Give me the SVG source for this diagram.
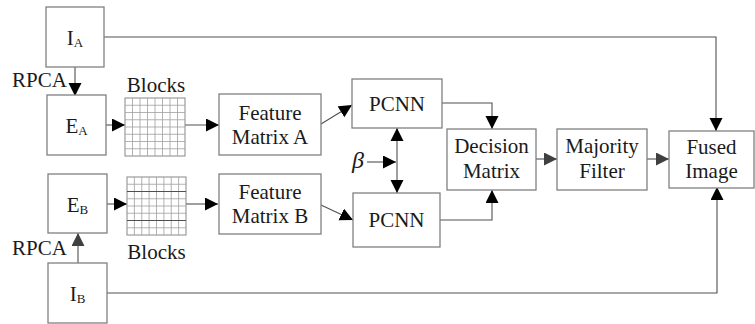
<svg xmlns="http://www.w3.org/2000/svg" width="755" height="324" viewBox="0 0 755 324">
<defs>
<style>
.box{fill:#fff;stroke:#808080;stroke-width:1.3}
.ln{fill:none;stroke:#505050;stroke-width:1.1}
.ab{marker-end:url(#ah)}
.ag{marker-end:url(#ahg)}
.grid{fill:#fff;stroke:#888;stroke-width:1}
.gl{stroke:#a0a0a0;stroke-width:0.8;fill:none}
.gd{stroke:#505050;stroke-width:1;fill:none}
</style>
<marker id="ah" markerUnits="userSpaceOnUse" markerWidth="14" markerHeight="14" refX="13" refY="6.5" orient="auto"><path d="M0,0 L13,6.5 L0,13 z" fill="#000"/></marker>
<marker id="ahs" markerUnits="userSpaceOnUse" markerWidth="14" markerHeight="14" refX="0" refY="6.5" orient="auto"><path d="M13,0 L0,6.5 L13,13 z" fill="#000"/></marker>
<marker id="ahg" markerUnits="userSpaceOnUse" markerWidth="14" markerHeight="14" refX="13" refY="6.5" orient="auto"><path d="M0,0 L13,6.5 L0,13 z" fill="#404040"/></marker>
</defs>
<rect width="755" height="324" fill="#fff"/>
<g id="connectors">
<path class="ln ab" d="M104,37 H716 V131"/>
<path class="ln ab" d="M75,67 V96"/>
<path class="ln ab" d="M106,125 H125"/>
<path class="ln ab" d="M185,125 H219"/>
<path class="ln ab" d="M321,124 L352,105"/>
<path class="ln ab" d="M442,103 H492 V129"/>
<path class="ln ab" d="M440,220 H492 V190"/>
<path class="ln ab" d="M367,162 H396"/>
<path class="ln" d="M397,128 V193" marker-start="url(#ahs)" marker-end="url(#ah)"/>
<path class="ln ag" d="M78,263 V233"/>
<path class="ln ab" d="M107,204 H127"/>
<path class="ln ab" d="M186,204 H218"/>
<path class="ln ab" d="M321,205 L353,220"/>
<path class="ln ag" d="M536,159 H557"/>
<path class="ln ag" d="M647,159 H669"/>
<path class="ln ab" d="M107,293 H717 V187"/>
</g>
<g font-family="Liberation Serif, Times New Roman, DejaVu Serif, serif" font-size="21" fill="#1a1a1a">
<g id="IA">
<rect class="box" x="46" y="7" width="58" height="60"/>
<text x="75" y="45" text-anchor="middle">I<tspan font-size="13" dy="2">A</tspan></text>
</g>
<g id="rpcaA"><text x="12" y="87">RPCA</text></g>
<g id="EA">
<rect class="box" x="47" y="95" width="59" height="60"/>
<text x="76.5" y="133" text-anchor="middle">E<tspan font-size="13" dy="2">A</tspan></text>
</g>
<g id="blocksA">
<text x="156" y="92" text-anchor="middle">Blocks</text>
<rect class="grid" x="125" y="98" width="60" height="58"/>
<path class="gl" d="M132.5,98V156M140,98V156M147.5,98V156M155,98V156M162.5,98V156M170,98V156M177.5,98V156M125,105.25H185M125,112.5H185M125,119.75H185M125,127H185M125,134.25H185M125,141.5H185M125,148.75H185"/>
</g>
<g id="FMA">
<rect class="box" x="219" y="94" width="102" height="61"/>
<text x="270" y="119.5" text-anchor="middle">Feature</text>
<text x="270" y="144" text-anchor="middle">Matrix A</text>
</g>
<g id="PCNN1">
<rect class="box" x="352" y="79" width="90" height="49"/>
<text x="397" y="110.5" text-anchor="middle">PCNN</text>
</g>
<g id="beta"><text x="358" y="168" font-size="24" font-style="italic" text-anchor="middle">β</text></g>
<g id="EB">
<rect class="box" x="48" y="174" width="59" height="59"/>
<text x="77.5" y="212" text-anchor="middle">E<tspan font-size="13" dy="2">B</tspan></text>
</g>
<g id="blocksB">
<rect class="grid" x="127" y="177" width="59" height="58"/>
<path class="gl" d="M134.4,177V235M141.75,177V235M149.1,177V235M156.5,177V235M163.9,177V235M171.25,177V235M178.6,177V235M127,184.25H186M127,198.75H186M127,206H186M127,213.25H186M127,227.75H186"/>
<path class="gd" d="M127,191.5H186M127,220.5H186"/>
<text x="156.5" y="259" text-anchor="middle">Blocks</text>
</g>
<g id="FMB">
<rect class="box" x="219" y="174" width="102" height="60"/>
<text x="270" y="198.5" text-anchor="middle">Feature</text>
<text x="270" y="223" text-anchor="middle">Matrix B</text>
</g>
<g id="PCNN2">
<rect class="box" x="353" y="193" width="87" height="54"/>
<text x="396.5" y="227" text-anchor="middle">PCNN</text>
</g>
<g id="rpcaB"><text x="12" y="255">RPCA</text></g>
<g id="IB">
<rect class="box" x="48" y="263" width="59" height="60"/>
<text x="77.5" y="301" text-anchor="middle">I<tspan font-size="13" dy="2">B</tspan></text>
</g>
<g id="DM">
<rect class="box" x="447" y="129" width="89" height="61"/>
<text x="491.5" y="153" text-anchor="middle">Decision</text>
<text x="491.5" y="177.5" text-anchor="middle">Matrix</text>
</g>
<g id="MF">
<rect class="box" x="557" y="129" width="90" height="61"/>
<text x="602" y="153" text-anchor="middle">Majority</text>
<text x="602" y="177.5" text-anchor="middle">Filter</text>
</g>
<g id="FI">
<rect class="box" x="669" y="131" width="85" height="57"/>
<text x="711.5" y="154" text-anchor="middle">Fused</text>
<text x="711.5" y="178" text-anchor="middle">Image</text>
</g>
</g>
</svg>
